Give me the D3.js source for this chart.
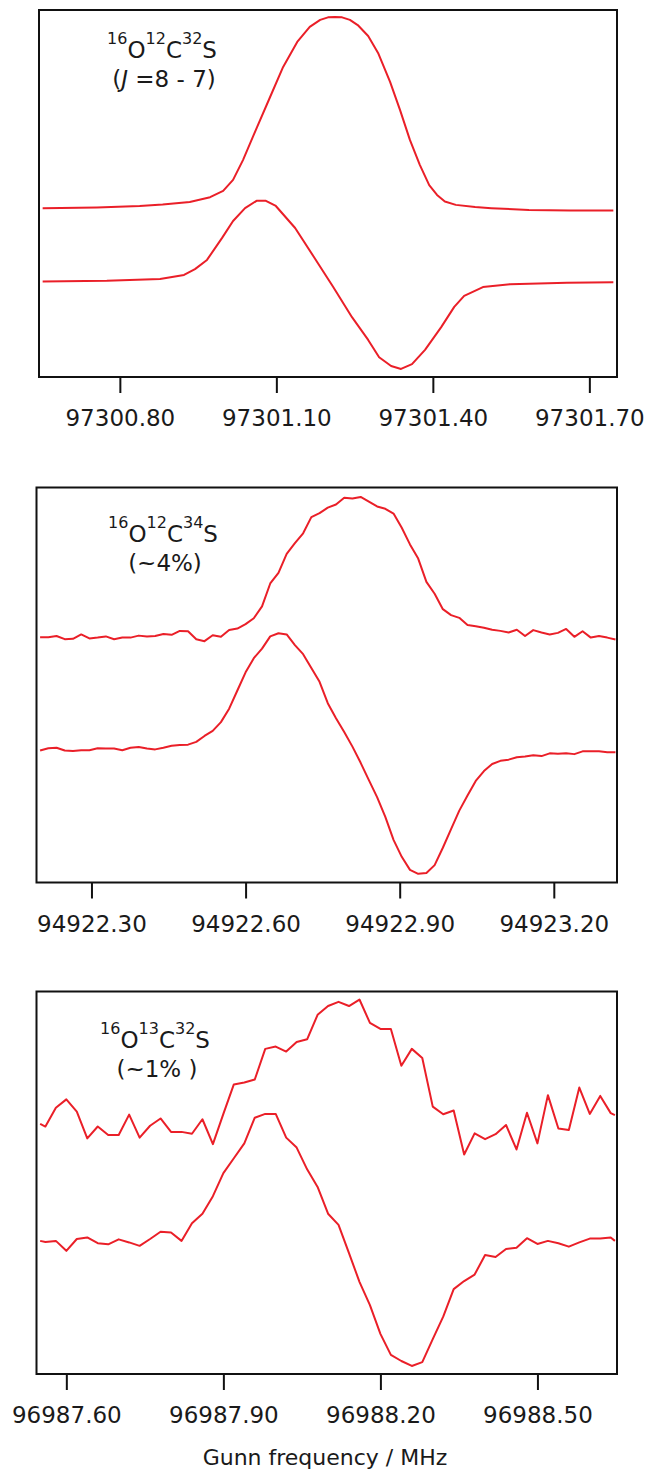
<!DOCTYPE html>
<html>
  <head>
    <meta charset="utf-8">
    <title>OCS J = 8 - 7 lines</title>
    <script src="https://cdn.jsdelivr.net/npm/d3@7"></script>
    <style>
     body { margin: 0; background: #fff; }
     svg text { font-family: "DejaVu Sans", sans-serif; fill: #1a1a1a; }
     .frame { fill: none; stroke: #111; stroke-width: 2px; }
     .trace { fill: none; stroke: #ea1f28; stroke-width: 2px; stroke-linejoin: round; }
     .axis .domain { display: none; }
     .axis line { stroke: #111; stroke-width: 2px; }
     .axis text { font-size: 23px; }
    </style>
  </head>
  <body>
    <svg id="chart" width="648" height="1471"></svg>
    <script>
     // ---- panel 1 : 16O12C32S, J = 8 - 7 (two smooth traces)
     var p1Domain = [97300.645, 97301.753];
     var p1Ticks = [97300.80, 97301.10, 97301.40, 97301.70];
     var p1UpperFreq = [97300.652, 97300.756, 97300.838, 97300.882, 97300.934, 97300.973, 97300.998,
       97301.017, 97301.036, 97301.063, 97301.088, 97301.113, 97301.140, 97301.164, 97301.184,
       97301.199, 97301.212, 97301.226, 97301.241, 97301.256, 97301.276, 97301.295, 97301.318,
       97301.337, 97301.356, 97301.375, 97301.393, 97301.408, 97301.423, 97301.444, 97301.481,
       97301.512, 97301.584, 97301.663, 97301.746];
     var p1Upper = [0.460, 0.462, 0.466, 0.470, 0.477, 0.490, 0.507, 0.537, 0.591, 0.681, 0.763,
       0.845, 0.913, 0.954, 0.973, 0.980, 0.981, 0.980, 0.973, 0.959, 0.929, 0.883, 0.804, 0.728,
       0.646, 0.578, 0.523, 0.496, 0.478, 0.469, 0.463, 0.460, 0.455, 0.454, 0.454];
     var p1LowerFreq = [97300.652, 97300.775, 97300.877, 97300.923, 97300.944, 97300.967, 97300.996,
       97301.017, 97301.040, 97301.062, 97301.080, 97301.099, 97301.136, 97301.172, 97301.209,
       97301.245, 97301.276, 97301.297, 97301.320, 97301.339, 97301.360, 97301.385, 97301.416,
       97301.441, 97301.460, 97301.496, 97301.548, 97301.657, 97301.746];
     var p1Lower = [0.260, 0.262, 0.267, 0.278, 0.294, 0.319, 0.379, 0.425, 0.460, 0.480, 0.480,
       0.466, 0.406, 0.327, 0.245, 0.163, 0.101, 0.054, 0.030, 0.022, 0.035, 0.074, 0.136, 0.191,
       0.221, 0.245, 0.253, 0.257, 0.258];

     // ---- panel 2 : 16O12C34S (~4%)
     var p2Domain = [94922.193, 94923.323];
     var p2Ticks = [94922.30, 94922.60, 94922.90, 94923.20];
     var p2Freq = [94922.200, 94922.216, 94922.232, 94922.248, 94922.264, 94922.280, 94922.296,
       94922.312, 94922.328, 94922.344, 94922.360, 94922.376, 94922.392, 94922.408, 94922.424,
       94922.440, 94922.456, 94922.472, 94922.488, 94922.504, 94922.520, 94922.536, 94922.552,
       94922.568, 94922.584, 94922.600, 94922.616, 94922.632, 94922.648, 94922.664, 94922.680,
       94922.696, 94922.712, 94922.728, 94922.744, 94922.760, 94922.776, 94922.792, 94922.808,
       94922.824, 94922.840, 94922.856, 94922.872, 94922.888, 94922.904, 94922.920, 94922.936,
       94922.952, 94922.968, 94922.984, 94923.000, 94923.016, 94923.032, 94923.048, 94923.064,
       94923.080, 94923.096, 94923.112, 94923.128, 94923.144, 94923.160, 94923.176, 94923.192,
       94923.208, 94923.224, 94923.240, 94923.256, 94923.272, 94923.288, 94923.304, 94923.320];
     var p2Upper = [0.621, 0.621, 0.624, 0.616, 0.617, 0.628, 0.618, 0.620, 0.623, 0.616,
       0.620, 0.620, 0.625, 0.623, 0.624, 0.629, 0.627, 0.637, 0.636, 0.616,
       0.611, 0.626, 0.622, 0.639, 0.643, 0.654, 0.669, 0.699, 0.757, 0.784,
       0.832, 0.859, 0.884, 0.925, 0.935, 0.949, 0.957, 0.974, 0.972, 0.976,
       0.964, 0.952, 0.946, 0.934, 0.898, 0.856, 0.820, 0.761, 0.731, 0.692,
       0.677, 0.670, 0.652, 0.649, 0.645, 0.640, 0.637, 0.633, 0.640, 0.624,
       0.639, 0.633, 0.628, 0.632, 0.642, 0.622, 0.636, 0.620, 0.624, 0.620,
       0.615];
     var p2Lower = [0.334, 0.340, 0.341, 0.334, 0.333, 0.335, 0.335, 0.340, 0.339, 0.339,
       0.335, 0.341, 0.343, 0.339, 0.337, 0.341, 0.346, 0.348, 0.349, 0.356,
       0.371, 0.384, 0.406, 0.440, 0.486, 0.532, 0.568, 0.592, 0.623, 0.631,
       0.628, 0.601, 0.578, 0.543, 0.508, 0.454, 0.416, 0.381, 0.344, 0.303,
       0.259, 0.216, 0.166, 0.108, 0.065, 0.032, 0.022, 0.024, 0.044, 0.088,
       0.135, 0.182, 0.220, 0.257, 0.282, 0.300, 0.308, 0.311, 0.317, 0.319,
       0.322, 0.320, 0.327, 0.326, 0.327, 0.325, 0.332, 0.332, 0.332, 0.330,
       0.330];

     // ---- panel 3 : 16O13C32S (~1%)
     var p3Domain = [96987.543, 96988.652];
     var p3Ticks = [96987.60, 96987.90, 96988.20, 96988.50];
     var p3Freq = [96987.550, 96987.56, 96987.58, 96987.60, 96987.62, 96987.64, 96987.66, 96987.68,
       96987.70, 96987.72, 96987.74, 96987.76, 96987.78, 96987.80, 96987.82, 96987.84, 96987.86,
       96987.88, 96987.90, 96987.92, 96987.94, 96987.96, 96987.98, 96988.00, 96988.02, 96988.04,
       96988.06, 96988.08, 96988.10, 96988.12, 96988.14, 96988.16, 96988.18, 96988.20, 96988.22,
       96988.24, 96988.26, 96988.28, 96988.30, 96988.32, 96988.34, 96988.36, 96988.38, 96988.40,
       96988.42, 96988.44, 96988.46, 96988.48, 96988.50, 96988.52, 96988.54, 96988.56, 96988.58,
       96988.60, 96988.62, 96988.64, 96988.648];
     var p3Upper = [0.654, 0.647, 0.696, 0.718, 0.686, 0.616, 0.647, 0.625, 0.625, 0.678,
       0.618, 0.649, 0.668, 0.633, 0.633, 0.628, 0.666, 0.601, 0.680, 0.757,
       0.762, 0.770, 0.850, 0.856, 0.843, 0.868, 0.875, 0.939, 0.962, 0.973,
       0.962, 0.979, 0.918, 0.902, 0.902, 0.806, 0.850, 0.826, 0.699, 0.679,
       0.689, 0.574, 0.629, 0.614, 0.627, 0.651, 0.587, 0.683, 0.603, 0.729,
       0.642, 0.638, 0.749, 0.680, 0.727, 0.682, 0.677];
     var p3Lower = [0.348, 0.345, 0.348, 0.322, 0.353, 0.357, 0.342, 0.339, 0.352, 0.344,
       0.335, 0.353, 0.372, 0.370, 0.348, 0.394, 0.419, 0.465, 0.525, 0.564,
       0.603, 0.670, 0.680, 0.680, 0.618, 0.592, 0.535, 0.489, 0.419, 0.390,
       0.316, 0.241, 0.180, 0.105, 0.050, 0.034, 0.021, 0.031, 0.091, 0.150,
       0.222, 0.243, 0.260, 0.311, 0.306, 0.327, 0.330, 0.355, 0.340, 0.348,
       0.342, 0.333, 0.344, 0.354, 0.354, 0.357, 0.348];

     // label texts: [text, style]  ("sup" = superscript, "it" = italic)
     var p1Name = [["16", "sup"], ["O"], ["12", "sup"], ["C"], ["32", "sup"], ["S"]];
     var p1Note = [["("], ["J", "it"], [" =8 - 7)"]];
     var p2Name = [["16", "sup"], ["O"], ["12", "sup"], ["C"], ["34", "sup"], ["S"]];
     var p2Note = [["(~4%)"]];
     var p3Name = [["16", "sup"], ["O"], ["13", "sup"], ["C"], ["32", "sup"], ["S"]];
     var p3Note = [["(~1% )"]];
     var xTitle = "Gunn frequency / MHz";

     var zip = function(xs, ys) {
       return xs.map(function(x, i) { return [x, ys[i]]; });
     };

     var panels = [
       { box: [39, 10, 617, 377], domain: p1Domain, ticks: p1Ticks,
         traces: [zip(p1UpperFreq, p1Upper), zip(p1LowerFreq, p1Lower)],
         name: p1Name, note: p1Note, lx: 162, ly: [58, 87] },
       { box: [36.5, 487.5, 617, 882.5], domain: p2Domain, ticks: p2Ticks,
         traces: [zip(p2Freq, p2Upper), zip(p2Freq, p2Lower)],
         name: p2Name, note: p2Note, lx: 163, ly: [542, 570.5] },
       { box: [36.5, 991.5, 617, 1374], domain: p3Domain, ticks: p3Ticks,
         traces: [zip(p3Freq, p3Upper), zip(p3Freq, p3Lower)],
         name: p3Name, note: p3Note, lx: 155, ly: [1048, 1077] }
     ];

     var svg = d3.select("#chart");

     var writeLabel = function(g, parts, x, y) {
       var t = g.append("text")
                .attr("x", x)
                .attr("y", y)
                .attr("text-anchor", "middle")
                .style("font-size", "23px");
       var raised = false;
       parts.forEach(function(p) {
         var s = t.append("tspan").text(p[0]);
         if (p[1] === "sup") {
           s.style("font-size", "16px").attr("dy", raised ? 0 : -14);
           raised = true;
         } else {
           if (raised) s.attr("dy", 14);
           raised = false;
         }
         if (p[1] === "it") s.style("font-style", "italic");
       });
     };

     panels.forEach(function(p) {
       var left = p.box[0], top = p.box[1], right = p.box[2], bottom = p.box[3];

       var x = d3.scaleLinear().domain(p.domain).range([left, right]);
       var y = d3.scaleLinear().domain([0, 1]).range([bottom, top]);

       var line = d3.line()
                    .x(function(d) { return x(d[0]); })
                    .y(function(d) { return y(d[1]); });

       var g = svg.append("g");

       g.selectAll("path.trace")
        .data(p.traces)
        .enter().append("path")
        .attr("class", "trace")
        .attr("d", line);

       g.append("rect")
        .attr("class", "frame")
        .attr("x", left)
        .attr("y", top)
        .attr("width", right - left)
        .attr("height", bottom - top);

       g.append("g")
        .attr("class", "axis")
        .attr("transform", "translate(0," + bottom + ")")
        .call(d3.axisBottom(x)
                .tickValues(p.ticks)
                .tickFormat(d3.format(".2f"))
                .tickSize(16)
                .tickPadding(17));

       writeLabel(g, p.name, p.lx, p.ly[0]);
       writeLabel(g, p.note, p.lx + 2, p.ly[1]);
     });

     svg.append("text")
        .attr("x", 325)
        .attr("y", 1465)
        .attr("text-anchor", "middle")
        .style("font-size", "22px")
        .text(xTitle);
    </script>
  </body>
</html>
